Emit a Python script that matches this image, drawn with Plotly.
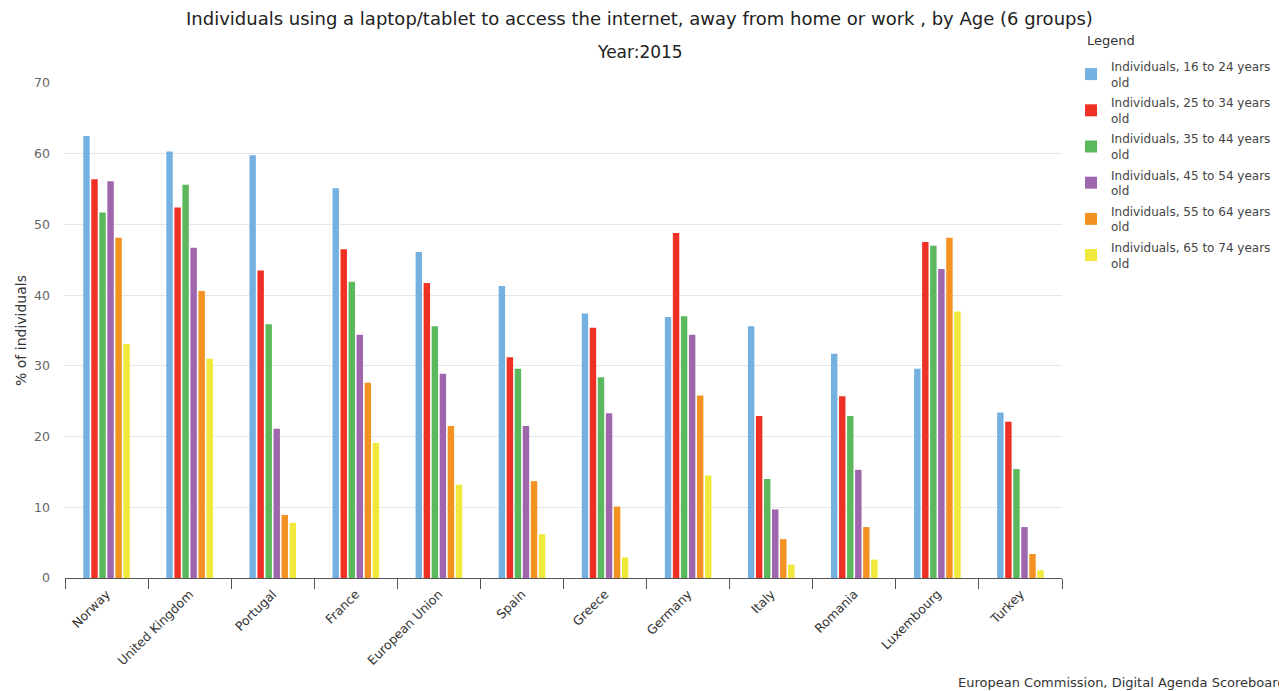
import plotly.graph_objects as go

countries = ["Norway", "United Kingdom", "Portugal", "France", "European Union", "Spain",
             "Greece", "Germany", "Italy", "Romania", "Luxembourg", "Turkey"]

age_16_24 = [62.5, 60.3, 59.8, 55.1, 46.1, 41.3, 37.4, 36.9, 35.6, 31.7, 29.6, 23.4]
age_25_34 = [56.4, 52.4, 43.5, 46.5, 41.7, 31.2, 35.4, 48.8, 22.9, 25.7, 47.5, 22.1]
age_35_44 = [51.7, 55.6, 35.9, 41.9, 35.6, 29.6, 28.4, 37.0, 14.0, 22.9, 47.0, 15.4]
age_45_54 = [56.1, 46.7, 21.1, 34.4, 28.9, 21.5, 23.3, 34.4, 9.7, 15.3, 43.7, 7.2]
age_55_64 = [48.1, 40.6, 8.9, 27.6, 21.5, 13.7, 10.1, 25.8, 5.5, 7.2, 48.1, 3.4]
age_65_74 = [33.1, 31.0, 7.8, 19.1, 13.2, 6.2, 2.9, 14.5, 1.9, 2.6, 37.7, 1.1]

series_names = [
    "Individuals, 16 to 24 years<br>old",
    "Individuals, 25 to 34 years<br>old",
    "Individuals, 35 to 44 years<br>old",
    "Individuals, 45 to 54 years<br>old",
    "Individuals, 55 to 64 years<br>old",
    "Individuals, 65 to 74 years<br>old",
]
series_values = [age_16_24, age_25_34, age_35_44, age_45_54, age_55_64, age_65_74]
colors = ["#74b1e0", "#ee3124", "#5cb85c", "#a066ad", "#f39121", "#f0e93b"]

FONT = "DejaVu Sans"

# page has an 8px body margin; figure sized so the page matches
OFF = 8
W, H = 1287 - OFF, 691 - OFF
L, T = 65 - OFF, 83 - OFF
PW, PH = 997, 495
R, B = W - L - PW, H - T - PH


def px_to_paper(x, y):
    return ((x - OFF) - L) / PW, ((T + PH) - (y - OFF)) / PH


fig = go.Figure()
for i, (name, vals, col) in enumerate(zip(series_names, series_values, colors)):
    fig.add_trace(go.Bar(x=countries, y=vals, name=name, legendgroup=f"g{i}",
                         marker=dict(color=col, line=dict(width=0))))

anns = []
for text, x, y, size, anchor, col in [
    ("Individuals using a laptop/tablet to access the internet, away from home or work , by Age (6 groups)",
     639, 18, 18, "center", "#222222"),
    ("Year:2015", 640, 52, 17, "center", "#222222"),
    ("European Commission, Digital Agenda Scoreboard", 956, 682, 13, "left", "#333333"),
    ("Legend", 1085, 40, 13, "left", "#333333"),
]:
    px, py = px_to_paper(x, y)
    anns.append(dict(text=text, x=px, y=py, xref="paper", yref="paper", showarrow=False,
                     xanchor=anchor, yanchor="middle", font=dict(size=size, color=col)))

lx, ly = px_to_paper(1071, 52)

fig.update_layout(
    width=W, height=H,
    paper_bgcolor="white", plot_bgcolor="white",
    font=dict(family=FONT, size=12, color="#333333"),
    barmode="group", bargap=0.42, bargroupgap=0.2,
    margin=dict(l=L, r=R, t=T, b=B, autoexpand=False),
    showlegend=True,
    legend=dict(
        x=lx, y=ly, xanchor="left", yanchor="top",
        font=dict(size=12, color="#444444"),
        tracegroupgap=2, itemwidth=30,
        bgcolor="rgba(0,0,0,0)",
    ),
    annotations=anns,
)

fig.update_yaxes(
    range=[0, 70], dtick=10, showgrid=True, gridcolor="#e6e6e6", gridwidth=1,
    zeroline=False, showline=False,
    tickfont=dict(size=12.5, color="#666666"),
    title=dict(text="% of individuals", font=dict(size=14, color="#333333"), standoff=4),
    ticks="", ticklabelstandoff=14,
)
fig.update_xaxes(
    showline=True, linecolor="#555555", linewidth=1,
    ticks="outside", tickson="boundaries", ticklen=10, tickcolor="#555555",
    tickangle=-45, tickfont=dict(size=12.5, color="#333333"),
    showgrid=False, ticklabelstandoff=3,
)

fig.write_html("out.html")
